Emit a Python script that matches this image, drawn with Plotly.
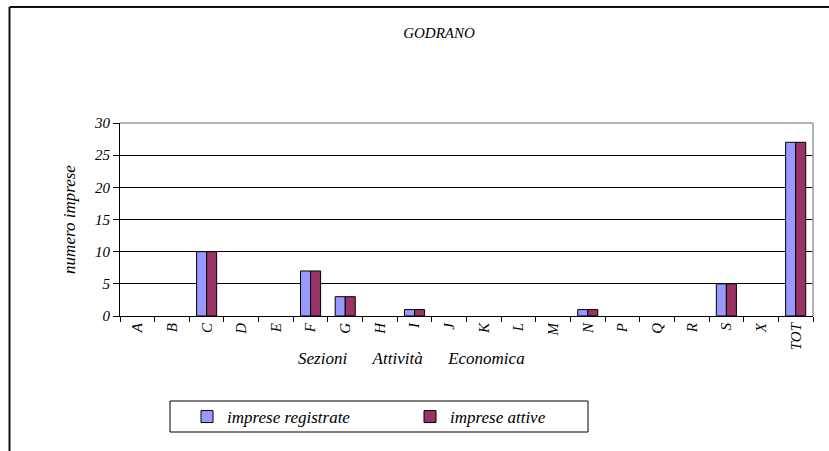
"""GODRANO - imprese registrate / attive per sezione di attivita economica."""

import plotly.graph_objects as go

sezioni = ["A", "B", "C", "D", "E", "F", "G", "H", "I", "J",
           "K", "L", "M", "N", "P", "Q", "R", "S", "X", "TOT"]
imprese_registrate = [0, 0, 10, 0, 0, 7, 3, 0, 1, 0, 0, 0, 0, 1, 0, 0, 0, 5, 0, 27]
imprese_attive = [0, 0, 10, 0, 0, 7, 3, 0, 1, 0, 0, 0, 0, 1, 0, 0, 0, 5, 0, 27]

W, H = 829, 451
L, R, T, B = 120, 16, 123, 135
PW, PH = W - L - R, H - T - B

FONT = "Liberation Serif"
NB = "\u00a0" * 6


def px_x(px):
    return (px - L) / PW


def px_y(py):
    return (H - B - py) / PH


def nonzero(values):
    # empty categories draw nothing (no flat outline on the axis)
    return [v if v else None for v in values]


fig = go.Figure()
fig.add_trace(go.Bar(
    x=sezioni, y=nonzero(imprese_registrate), name="imprese registrate",
    marker={"color": "#9999FF", "line": {"color": "black", "width": 1}},
))
fig.add_trace(go.Bar(
    x=sezioni, y=nonzero(imprese_attive), name="imprese attive",
    marker={"color": "#993366", "line": {"color": "black", "width": 1}},
))

fig.update_layout(
    width=W,
    height=H,
    margin={"l": L, "r": R, "t": T, "b": B},
    plot_bgcolor="white",
    paper_bgcolor="white",
    barmode="group",
    bargap=0.42,
    bargroupgap=0,
    font={"family": FONT, "color": "black", "size": 15, "style": "italic"},
    title={
        "text": "GODRANO",
        "x": 439 / W,
        "xanchor": "center",
        "y": 1 - 33 / H,
        "yanchor": "middle",
        "font": {"family": FONT, "size": 15, "style": "italic", "color": "black"},
    },
    showlegend=True,
    legend={
        "orientation": "h",
        "x": px_x(187),
        "xanchor": "left",
        "y": px_y(399),
        "yanchor": "top",
        "bgcolor": "rgba(0,0,0,0)",
        "borderwidth": 0,
        "entrywidth": 178,
        "font": {"family": FONT, "size": 17, "style": "italic"},
    },
)

fig.update_xaxes(
    type="category",
    categoryarray=sezioni,
    showline=True,
    linecolor="black",
    linewidth=1,
    ticks="outside",
    ticklen=5,
    tickcolor="black",
    tickson="boundaries",
    tickangle=-90,
    tickfont={"family": FONT, "size": 15, "style": "italic"},
    showgrid=False,
    fixedrange=True,
)
fig.update_yaxes(
    range=[0, 30],
    dtick=5,
    showline=True,
    linecolor="black",
    linewidth=1,
    ticks="outside",
    ticklen=6,
    tickcolor="black",
    showgrid=True,
    gridcolor="black",
    gridwidth=1,
    zeroline=False,
    fixedrange=True,
    tickfont={"family": FONT, "size": 15, "style": "italic"},
    title={"text": "numero imprese", "standoff": 14,
           "font": {"family": FONT, "size": 17, "style": "italic"}},
)

# x axis title, placed like the original (left of centre)
fig.add_annotation(
    text=f"Sezioni{NB}Attività{NB}Economica",
    x=px_x(411), y=px_y(358), xref="paper", yref="paper",
    xanchor="center", yanchor="middle", showarrow=False,
    font={"family": FONT, "size": 17, "style": "italic"},
)

# legend frame
fig.add_shape(type="rect", xref="paper", yref="paper",
              x0=px_x(170), x1=px_x(588), y0=px_y(401), y1=px_y(432),
              line={"color": "black", "width": 1}, fillcolor="rgba(0,0,0,0)")

# grey top / right border of the plot area
fig.add_shape(type="line", xref="paper", yref="paper", x0=0, x1=1, y0=1, y1=1,
              line={"color": "#999999", "width": 1.5})
fig.add_shape(type="line", xref="paper", yref="paper", x0=1, x1=1, y0=0, y1=1,
              line={"color": "#999999", "width": 1.5})

# outer chart frame (cut off at right and bottom)
fig.add_shape(type="line", xref="paper", yref="paper",
              x0=px_x(9.5), x1=px_x(W + 5), y0=px_y(7), y1=px_y(7),
              line={"color": "#111111", "width": 2})
fig.add_shape(type="line", xref="paper", yref="paper",
              x0=px_x(9.5), x1=px_x(9.5), y0=px_y(7), y1=px_y(H + 5),
              line={"color": "#111111", "width": 2})

# drop the default page margin so the figure sits at the window corner
fig.write_html("out.html", config={"displayModeBar": False},
               post_script="document.body.style.margin = '0';")
